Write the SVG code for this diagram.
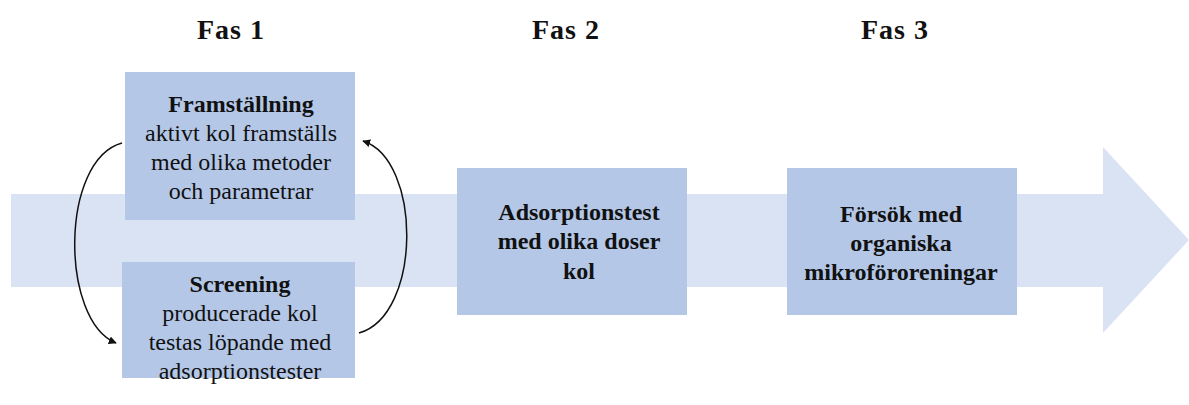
<svg xmlns="http://www.w3.org/2000/svg" width="1189" height="405" viewBox="0 0 1189 405">
<defs>
<marker id="ah" viewBox="0 0 10 10" refX="9" refY="5" markerWidth="8" markerHeight="8" orient="auto" markerUnits="userSpaceOnUse"><path d="M0,0 L10,5 L0,10 z" fill="#111"/></marker>
</defs>
<rect width="1189" height="405" fill="#fff"/>
<g id="bigarrow"><path d="M11,194 L1103,194 L1103,147 L1189,240 L1103,333 L1103,287 L11,287 z" fill="#dae3f3"/></g>
<g id="headings" fill="#111" text-anchor="middle">
<text font-family="Liberation Serif" font-size="28" font-weight="bold" letter-spacing="1" x="231" y="39">Fas 1</text>
<text font-family="Liberation Serif" font-size="28" font-weight="bold" letter-spacing="1" x="566" y="39">Fas 2</text>
<text font-family="Liberation Serif" font-size="28" font-weight="bold" letter-spacing="1" x="895" y="39">Fas 3</text>
</g>
<g id="framstallning" fill="#111" text-anchor="middle">
<rect fill="#b4c7e7" x="125" y="72" width="230" height="148"/>
<text font-family="Liberation Serif" font-size="24" font-weight="bold" x="241" y="112">Framställning</text>
<text font-family="Liberation Serif" font-size="24" x="241" y="141">aktivt kol framställs</text>
<text font-family="Liberation Serif" font-size="24" x="241" y="170">med olika metoder</text>
<text font-family="Liberation Serif" font-size="24" x="241" y="199">och parametrar</text>
</g>
<g id="screening" fill="#111" text-anchor="middle">
<rect fill="#b4c7e7" x="122" y="262" width="233" height="116"/>
<text font-family="Liberation Serif" font-size="24" font-weight="bold" x="240" y="292">Screening</text>
<text font-family="Liberation Serif" font-size="24" x="240" y="321">producerade kol</text>
<text font-family="Liberation Serif" font-size="24" x="240" y="350">testas löpande med</text>
<text font-family="Liberation Serif" font-size="24" x="240" y="379">adsorptionstester</text>
</g>
<g id="adsorption" fill="#111" text-anchor="middle">
<rect fill="#b4c7e7" x="457" y="168" width="230" height="147"/>
<text font-family="Liberation Serif" font-size="24" font-weight="bold" x="579" y="220">Adsorptionstest</text>
<text font-family="Liberation Serif" font-size="24" font-weight="bold" x="579" y="249">med olika doser</text>
<text font-family="Liberation Serif" font-size="24" font-weight="bold" x="579" y="279">kol</text>
</g>
<g id="forsok" fill="#111" text-anchor="middle">
<rect fill="#b4c7e7" x="787" y="168" width="230" height="147"/>
<text font-family="Liberation Serif" font-size="24" font-weight="bold" x="901" y="222">Försök med</text>
<text font-family="Liberation Serif" font-size="24" font-weight="bold" x="901" y="251">organiska</text>
<text font-family="Liberation Serif" font-size="24" font-weight="bold" x="901" y="280">mikroföroreningar</text>
</g>
<g id="connectors" fill="none" stroke="#111" stroke-width="1.5">
<path d="M122,143 C60,160 60,320 116,343" marker-end="url(#ah)"/>
<path d="M359,333 C422,315 422,160 363,141" marker-end="url(#ah)"/>
</g>
</svg>
